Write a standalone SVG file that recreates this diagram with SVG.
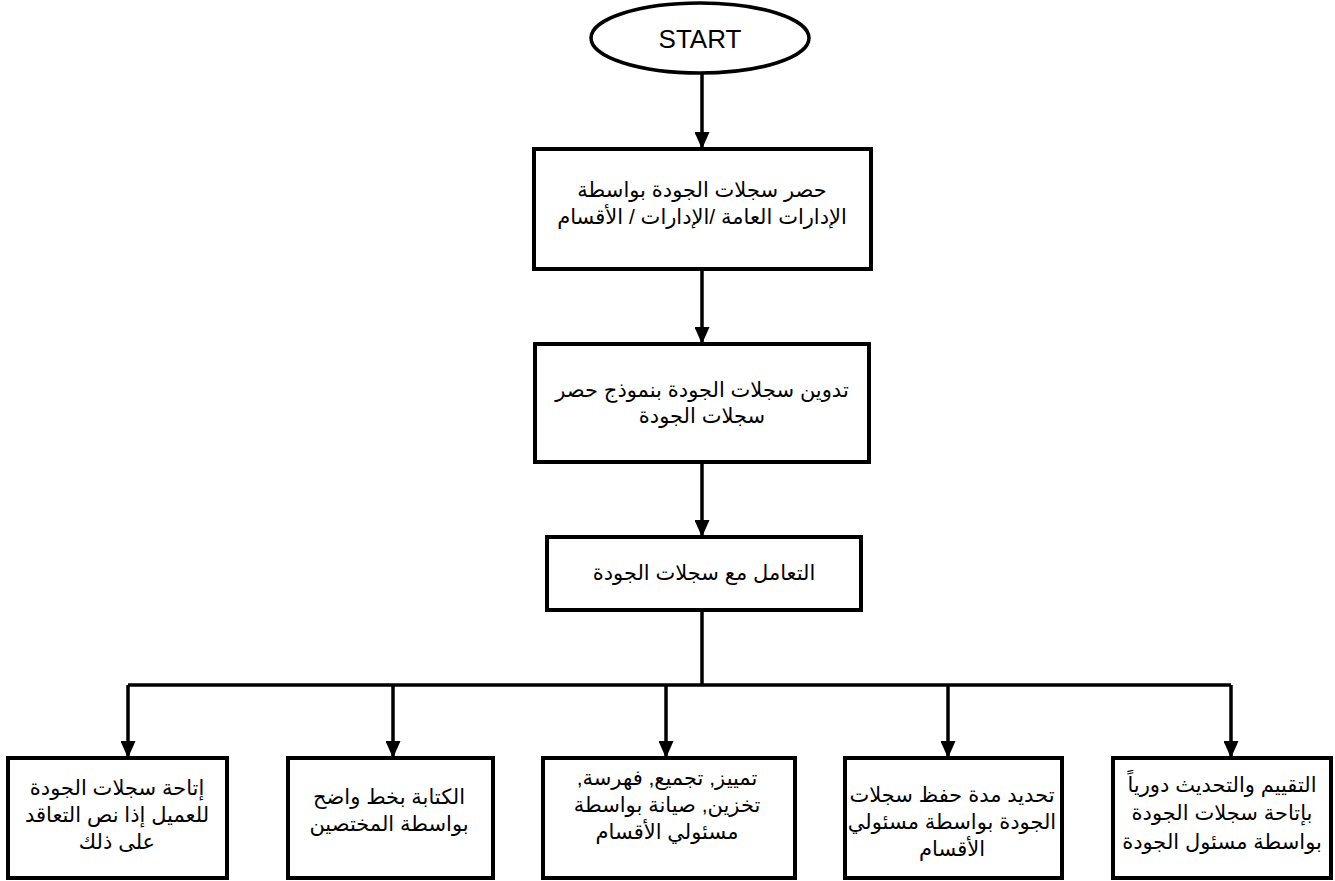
<svg xmlns="http://www.w3.org/2000/svg" width="1335" height="881" viewBox="0 0 1335 881">
<defs>
<marker id="arr" viewBox="0 0 17 15" refX="17" refY="7.5" markerWidth="17" markerHeight="15" markerUnits="userSpaceOnUse" orient="auto">
<path d="M0,0 L17,7.5 L0,15 Z" fill="#000"/>
</marker>
</defs>
<style>
.box{fill:#fff;stroke:#000;stroke-width:4}
.ell{fill:#fff;stroke:#000;stroke-width:3.5}
.ln{fill:none;stroke:#000;stroke-width:3.5}
.t{font-family:"Liberation Sans","DejaVu Sans",sans-serif;font-size:21px;fill:#000;text-anchor:middle}
.s{font-family:"Liberation Sans",Arial,sans-serif;font-size:26px;fill:#000;text-anchor:middle}
</style>
<rect width="1335" height="881" fill="#fff"/>
<g id="connectors">
<path class="ln" d="M702,73 V149" marker-end="url(#arr)"/>
<path class="ln" d="M702,269 V344" marker-end="url(#arr)"/>
<path class="ln" d="M702,462 V537" marker-end="url(#arr)"/>
<path class="ln" d="M702,610 V685"/>
<path class="ln" d="M128,685 H1231"/>
<path class="ln" d="M128,685 V758" marker-end="url(#arr)"/>
<path class="ln" d="M393,685 V758" marker-end="url(#arr)"/>
<path class="ln" d="M666,685 V758" marker-end="url(#arr)"/>
<path class="ln" d="M948,685 V758" marker-end="url(#arr)"/>
<path class="ln" d="M1231,685 V758" marker-end="url(#arr)"/>
</g>
<g id="start">
<ellipse class="ell" cx="700" cy="38" rx="109" ry="35"/>
<text class="s" x="700" y="48">START</text>
</g>
<g id="n1">
<rect class="box" x="534" y="149" width="337" height="120"/>
<text class="t" direction="rtl" x="702" y="197">حصر سجلات الجودة بواسطة</text>
<text class="t" direction="rtl" x="702" y="224">الإدارات العامة /الإدارات / الأقسام</text>
</g>
<g id="n2">
<rect class="box" x="535" y="344" width="334" height="118"/>
<text class="t" direction="rtl" x="702" y="397">تدوين سجلات الجودة بنموذج حصر</text>
<text class="t" direction="rtl" x="702" y="423">سجلات الجودة</text>
</g>
<g id="n3">
<rect class="box" x="547" y="537" width="314" height="73"/>
<text class="t" direction="rtl" x="704" y="580">التعامل مع سجلات الجودة</text>
</g>
<g id="b1">
<rect class="box" x="8" y="758" width="219" height="120"/>
<text class="t" direction="rtl" x="117" y="795">إتاحة سجلات الجودة</text>
<text class="t" direction="rtl" x="117" y="822">للعميل إذا نص التعاقد</text>
<text class="t" direction="rtl" x="117" y="849">على ذلك</text>
</g>
<g id="b2">
<rect class="box" x="288" y="758" width="205" height="120"/>
<text class="t" direction="rtl" x="389" y="804">الكتابة بخط واضح</text>
<text class="t" direction="rtl" x="389" y="831">بواسطة المختصين</text>
</g>
<g id="b3">
<rect class="box" x="543" y="758" width="252" height="120"/>
<text class="t" direction="rtl" x="667" y="785">تمييز, تجميع, فهرسة,</text>
<text class="t" direction="rtl" x="667" y="812">تخزين, صيانة بواسطة</text>
<text class="t" direction="rtl" x="667" y="839">مسئولي الأقسام</text>
</g>
<g id="b4">
<rect class="box" x="845" y="758" width="217" height="120"/>
<text class="t" direction="rtl" x="952" y="802">تحديد مدة حفظ سجلات</text>
<text class="t" direction="rtl" x="952" y="829">الجودة بواسطة مسئولي</text>
<text class="t" direction="rtl" x="952" y="856">الأقسام</text>
</g>
<g id="b5">
<rect class="box" x="1113" y="758" width="218" height="120"/>
<text class="t" direction="rtl" x="1222" y="792">التقييم والتحديث دورياً</text>
<text class="t" direction="rtl" x="1222" y="820">بإتاحة سجلات الجودة</text>
<text class="t" direction="rtl" x="1222" y="849">بواسطة مسئول الجودة</text>
</g>
</svg>
